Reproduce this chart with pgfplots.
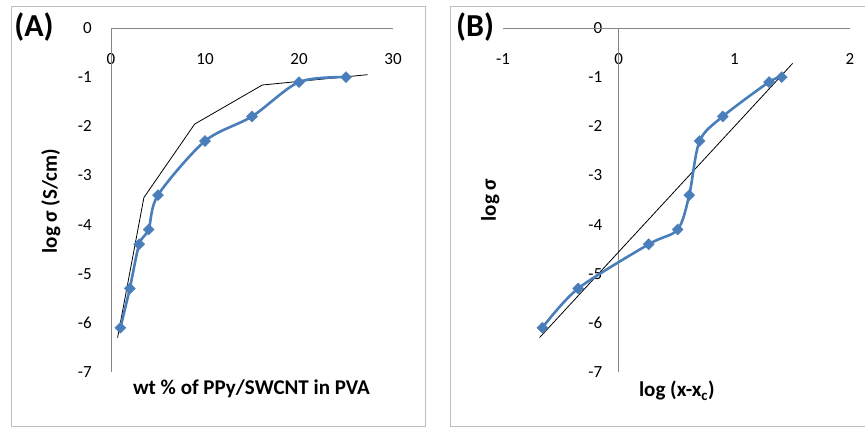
\documentclass[border=0pt]{standalone}
\usepackage{fontspec}
\setmainfont{Carlito}
\usepackage{pgfplots}
\pgfplotsset{compat=1.18}
\definecolor{xlblue}{HTML}{4A7EBB}
\definecolor{axgray}{HTML}{868686}
\definecolor{bdgray}{HTML}{BFBFBF}
\tikzset{axln/.style={axgray, line width=0.9pt}}
\pgfplotsset{
  panel/.style={
    scale only axis, height=344pt,
    ymin=-7, ymax=0, ytick={-7,-6,...,0},
    axis line style={draw=none},
    major tick length=0pt,
    xticklabel pos=upper,
    /pgf/number format/assume math mode=true,
    tick label style={font=\fontsize{17}{19}\selectfont, black},
    xticklabel style={anchor=center, yshift=-31pt},
    label style={font=\fontsize{21}{24}\selectfont\bfseries},
    clip=false,
  },
  bluecurve/.style={xlblue, line width=2.6pt, smooth, tension=0.5,
    mark=square*, mark size=3.9pt,
    mark options={rotate=45, solid, fill=xlblue, draw=xlblue, line width=0.4pt}},
  fitline/.style={black, line width=0.8pt, no marks},
}
\begin{document}
\begin{tikzpicture}[x=1pt,y=1pt]
\useasboundingbox (0,0) rectangle (865,428);
\draw[bdgray, line width=1pt] (11,1) rectangle (425,421);
\draw[bdgray, line width=1pt] (450,1) rectangle (890,421);
\node[font=\fontsize{32}{36}\selectfont\bfseries] at (34,400.5) {(A)};
\node[font=\fontsize{32}{36}\selectfont\bfseries] at (475,400.5) {(B)};

\begin{axis}[panel,
  at={(111pt,56pt)}, anchor=south west, width=282pt,
  xmin=0, xmax=30, xtick={0,10,20,30},
  yticklabel style={anchor=east, inner sep=0pt, xshift=-19pt},
  xlabel={wt \% of PPy/SWCNT in PVA},
  ylabel={log σ (S/cm)},
  xlabel style={at={(axis description cs:0.498,-0.049)}, anchor=center},
  ylabel style={at={(axis description cs:-0.213,0.497)}, anchor=center},
]
\draw[axln] (axis cs:0,0) -- (axis cs:30,0);
\draw[axln] (axis cs:0,-7) -- (axis cs:0,0);
\addplot[fitline] coordinates {(0.7,-6.3) (3.5,-3.45) (8.9,-1.955) (16.1,-1.16) (27.3,-0.95)};
\addplot[bluecurve] coordinates {(1,-6.1) (2,-5.3) (3,-4.4) (4,-4.1) (5,-3.4) (10,-2.3) (15,-1.8) (20,-1.1) (25,-1.0)};
\end{axis}

\begin{axis}[panel,
  at={(503pt,56pt)}, anchor=south west, width=347pt,
  xmin=-1, xmax=2, xtick={-1,0,1,2},
  yticklabel style={anchor=east, inner sep=0pt, xshift=99.5pt},
  xlabel={log (x-x\textsubscript{c})},
  ylabel={log σ},
  xlabel style={at={(axis description cs:0.501,-0.055)}, anchor=center},
  ylabel style={at={(axis description cs:-0.037,0.50)}, anchor=center},
]
\draw[axln] (axis cs:-1,0) -- (axis cs:2,0);
\draw[axln] (axis cs:0,-7) -- (axis cs:0,0);
\addplot[fitline] coordinates {(-0.684,-6.3) (1.504,-0.72)};
\addplot[bluecurve] coordinates {(-0.66,-6.1) (-0.35,-5.3) (0.26,-4.4) (0.51,-4.1) (0.61,-3.4) (0.70,-2.3) (0.90,-1.8) (1.30,-1.1) (1.41,-1.0)};
\end{axis}
\end{tikzpicture}
\end{document}
